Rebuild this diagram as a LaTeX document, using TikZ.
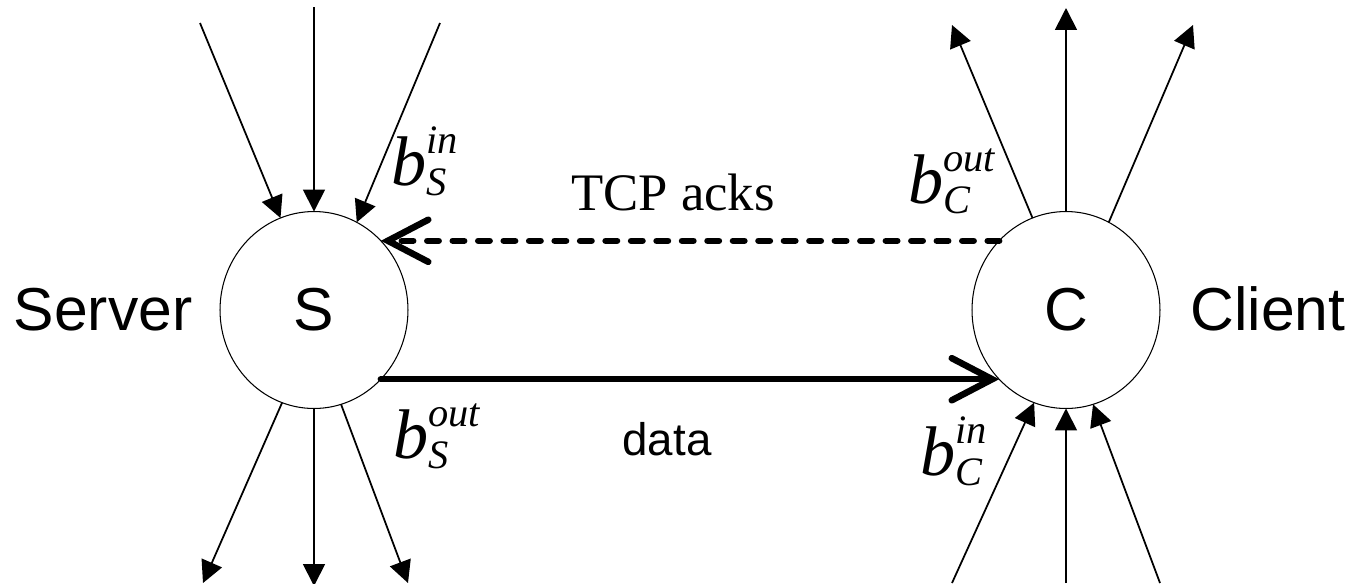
\documentclass[tikz,border=0pt]{standalone}
\usepackage{amsmath}
\usepackage{fontspec}
\setmainfont{Liberation Serif}
\setsansfont{Liberation Sans}
\usetikzlibrary{positioning,arrows.meta,shapes}
\DeclareMathSizes{40}{40}{23}{17}
\newcommand{\bwlabel}[2]{$\text{\itshape b}^{\text{\itshape #1}}_{\text{\itshape #2}}$}

\begin{document}
\begin{tikzpicture}[x=0.02cm,y=-0.02cm,every node/.style={inner sep=0pt, outer sep=0pt},
  host/.style={draw, ellipse, line width=0.6pt, minimum width=3.76cm, minimum height=3.94cm, font=\sffamily\fontsize{34.5}{40}\selectfont},
  hostname/.style={anchor=base, font=\sffamily\fontsize{34.5}{40}\selectfont},
  bw/.style={anchor=base west, font=\fontsize{40}{44}\selectfont},
  flow/.style={-{Triangle[length=12.5pt,width=12.5pt]}, line width=1pt},
  bigflow/.style={-{Straight Barb[length=23pt,width=24pt,line cap=round]}, line width=3.7pt, line cap=round}]
\useasboundingbox (0,0) rectangle (1357,583);
\node[host] (S) at (314,310) {S};
\node[host] (C) at (1066,310) {C};
\node[hostname] (server) at (103,330) {Server};
\node[hostname] (client) at (1268,330) {Client};
\node[anchor=base, font=\fontsize{30}{36}\selectfont] (acks) at (673,210) {TCP acks};
\node[anchor=base, font=\sffamily\fontsize{26}{30}\selectfont] (data) at (667,455) {data};
\node[bw] (bsin) at (391,185) {\bwlabel{in}{S}};
\node[bw] (bcout) at (908,203) {\bwlabel{out}{C}};
\node[bw] (bsout) at (393,458) {\bwlabel{out}{S}};
\node[bw] (bcin) at (920,475) {\bwlabel{in}{C}};
\coordinate (sin1) at (200,23);
\coordinate (sin2) at (314,7);
\coordinate (sin3) at (440,23);
\coordinate (sout1) at (203,583);
\coordinate (sout2) at (314,586);
\coordinate (sout3) at (408,583);
\coordinate (cout1) at (952,25);
\coordinate (cout2) at (1066,8);
\coordinate (cout3) at (1193,25);
\coordinate (cin1) at (952,583);
\coordinate (cin2) at (1066,583);
\coordinate (cin3) at (1160,583);
\draw[flow] (sin1) -- (S.110);
\draw[flow] (sin2) -- (S.90);
\draw[flow] (sin3) -- (S.64);
\draw[flow] (S.251) -- (sout1);
\draw[flow] (S.270) -- (sout2);
\draw[flow] (S.286) -- (sout3);
\draw[flow] (C.110) -- (cout1);
\draw[flow] (C.90) -- (cout2);
\draw[flow] (C.64) -- (cout3);
\draw[flow] (cin1) -- (C.251);
\draw[flow] (cin2) -- (C.270);
\draw[flow] (cin3) -- (C.286);
\draw[bigflow, dash pattern=on 6.5pt off 8pt] (C.134) -- (S.46);
\draw[bigflow] (S.-46) -- (C.-134);
\end{tikzpicture}
\end{document}
